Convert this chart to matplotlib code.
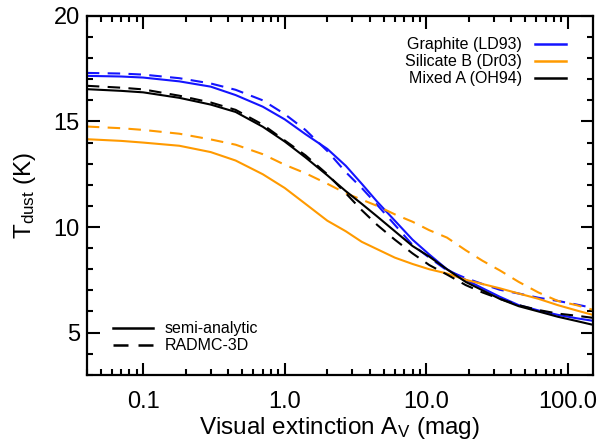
import matplotlib
matplotlib.use("Agg")
import matplotlib.pyplot as plt
from matplotlib.lines import Line2D
from matplotlib.ticker import FixedLocator, NullFormatter, LogLocator, MultipleLocator

plt.rcParams['font.family'] = ['Liberation Sans', 'DejaVu Sans']
plt.rcParams['mathtext.fontset'] = 'custom'
plt.rcParams['mathtext.rm'] = 'Liberation Sans'
plt.rcParams['mathtext.it'] = 'Liberation Sans'

# Visual extinction grid (mag)
av = [0.04, 0.07, 0.1, 0.18, 0.3, 0.45, 0.7, 1.0, 1.4, 2.0, 2.7, 3.5, 4.5, 6.0,
      8.0, 10.5, 14, 19, 25, 33, 45, 62, 85, 115, 150]

# Graphite (LD93)
graphite_semi = [17.16, 17.13, 17.08, 16.9, 16.65, 16.25, 15.7, 15.1, 14.4, 13.7, 12.9,
                 12.05, 11.2, 10.3, 9.4, 8.7, 8.0, 7.5, 7.1, 6.7, 6.3, 6.05, 5.84, 5.68, 5.56]
graphite_radmc = [17.3, 17.27, 17.22, 17.05, 16.8, 16.5, 16.0, 15.35, 14.6, 13.6, 12.6,
                  11.85, 11.05, 10.1, 9.15, 8.55, 7.95, 7.58, 7.3, 7.03, 6.85, 6.65, 6.5, 6.33, 6.17]
# Silicate B (Dr03)
silicate_semi = [14.16, 14.08, 14.0, 13.85, 13.55, 13.15, 12.5, 11.85, 11.1, 10.3, 9.8,
                 9.3, 8.95, 8.55, 8.25, 8.0, 7.8, 7.5, 7.3, 7.1, 6.85, 6.6, 6.3, 6.05, 5.84]
silicate_radmc = [14.76, 14.68, 14.6, 14.42, 14.15, 13.9, 13.45, 12.95, 12.55, 12.05, 11.6,
                  11.3, 11.0, 10.6, 10.25, 9.85, 9.5, 8.9, 8.4, 7.95, 7.4, 6.9, 6.5, 6.3, 6.08]
# Mixed A (OH94)
mixed_semi = [16.53, 16.45, 16.38, 16.12, 15.8, 15.45, 14.75, 14.05, 13.3, 12.45, 11.7,
              11.1, 10.5, 9.8, 9.1, 8.6, 8.0, 7.4, 7.0, 6.6, 6.25, 6.0, 5.75, 5.55, 5.37]
mixed_radmc = [16.69, 16.6, 16.52, 16.22, 15.9, 15.55, 14.85, 14.1, 13.4, 12.5, 11.6,
               10.8, 10.1, 9.4, 8.75, 8.2, 7.75, 7.25, 6.9, 6.6, 6.3, 6.07, 5.9, 5.8, 5.7]

materials = ['Graphite (LD93)', 'Silicate B (Dr03)', 'Mixed A (OH94)']
colors = ['#1414ff', '#ff9a00', 'black']
methods = ['semi-analytic', 'RADMC-3D']

xticks = [0.1, 1.0, 10.0, 100.0]
xticklabels = ['0.1', '1.0', '10.0', '100.0']
yticks = [5, 10, 15, 20]

fig = plt.figure(figsize=(6.03, 4.42), dpi=100)
ax = fig.add_axes([0.144, 0.152, 0.839, 0.812])

dash = (0, (6.0, 4.0))
series = [(graphite_semi, graphite_radmc), (silicate_semi, silicate_radmc), (mixed_semi, mixed_radmc)]
for (semi, radmc), c in zip(series, colors):
    ax.plot(av, semi, color=c, lw=1.5, ls='-')
    ax.plot(av, radmc, color=c, lw=1.5, ls=dash)

ax.set_xscale('log')
ax.set_xlim(0.04, 150)
ax.set_ylim(3, 20)
ax.xaxis.set_major_locator(FixedLocator(xticks))
ax.set_xticklabels(xticklabels)
ax.xaxis.set_minor_locator(LogLocator(base=10, subs=range(2, 10), numticks=20))
ax.xaxis.set_minor_formatter(NullFormatter())
ax.yaxis.set_major_locator(FixedLocator(yticks))
ax.yaxis.set_minor_locator(MultipleLocator(1))

ax.tick_params(which='both', direction='in', top=True, right=True, width=1.5,
               labelsize=17)
ax.tick_params(axis='x', which='major', pad=12)
ax.tick_params(axis='y', which='major', pad=5)
ax.tick_params(which='major', length=9)
ax.tick_params(which='minor', length=4.5)
for s in ax.spines.values():
    s.set_linewidth(1.6)

ax.set_xlabel(r'Visual extinction A$_{\rm V}$ (mag)', fontsize=17.5, labelpad=1)
ax.set_ylabel(r'T$_{\rm dust}$ (K)', fontsize=17.5, labelpad=11)

h1 = [Line2D([], [], color=c, lw=1.8) for c in colors]
leg1 = ax.legend(h1, materials, loc='upper right', bbox_to_anchor=(0.947, 0.94),
                 frameon=False, fontsize=11.5, markerfirst=False, handlelength=1.95,
                 handletextpad=0.8, labelspacing=0.12, borderpad=0, borderaxespad=0)
ax.add_artist(leg1)

h2 = [Line2D([], [], color='black', lw=1.8, ls='-'),
      Line2D([], [], color='black', lw=1.8, ls=dash)]
ax.legend(h2, methods, loc='lower left', bbox_to_anchor=(0.051, 0.06),
          frameon=False, fontsize=11.5, handlelength=2.5, handletextpad=0.75,
          labelspacing=0.12, borderpad=0, borderaxespad=0)

fig.savefig('out.png', dpi=100)
